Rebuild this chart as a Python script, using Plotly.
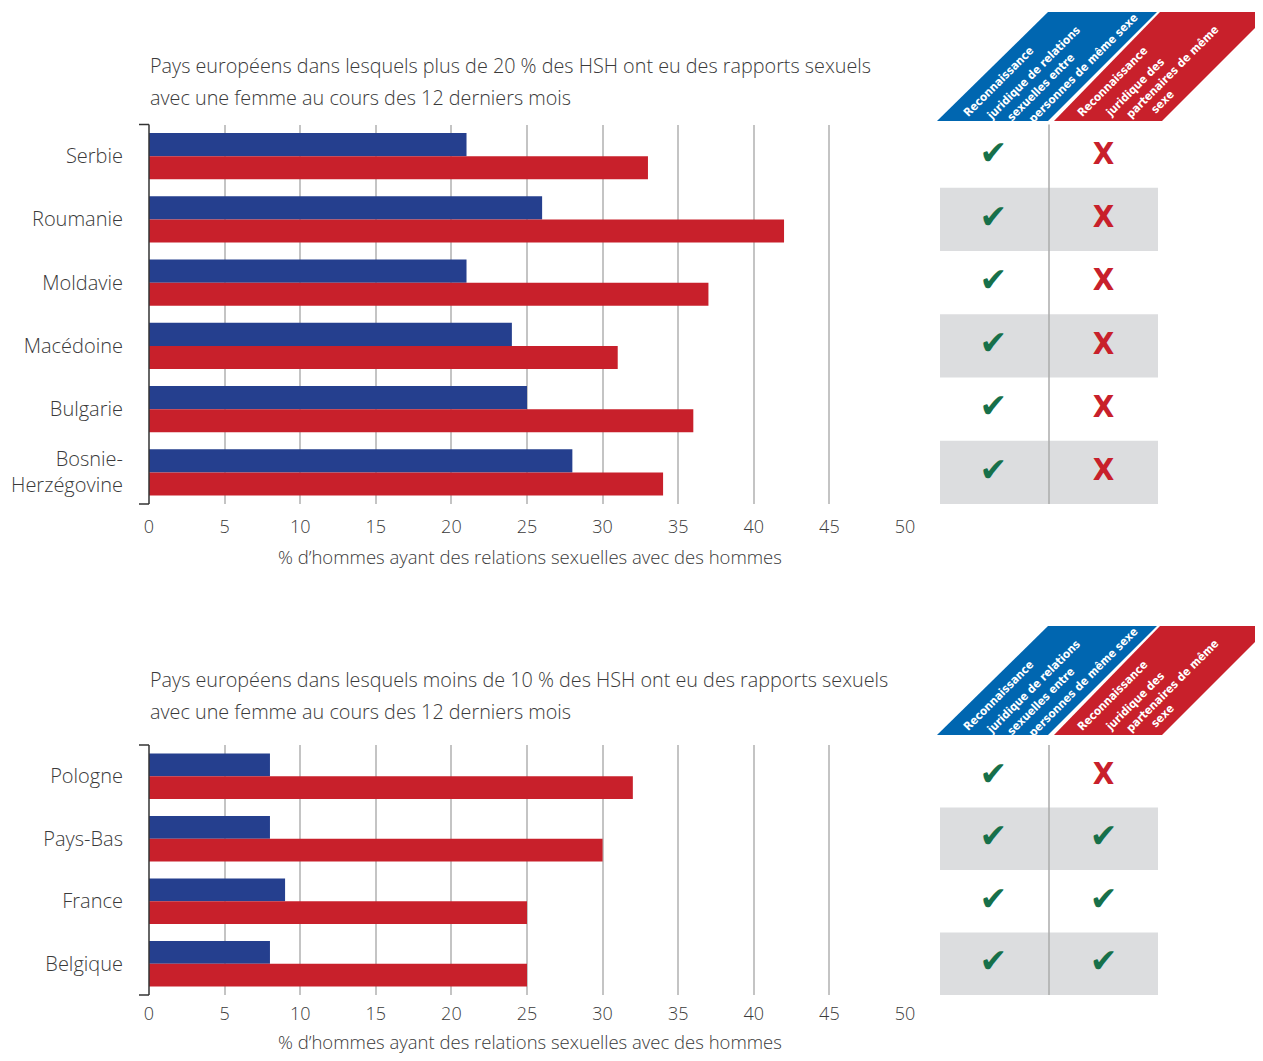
import plotly.graph_objects as go

# ---------------- data ----------------
countries_top = ["Serbie", "Roumanie", "Moldavie", "Macédoine", "Bulgarie", "Bosnie-<br>Herzégovine"]
blue_top = [21, 26, 21, 24, 25, 28]
red_top = [33, 42, 37, 31, 36, 34]
relations_top = [True, True, True, True, True, True]
partners_top = [False, False, False, False, False, False]

countries_bot = ["Pologne", "Pays-Bas", "France", "Belgique"]
blue_bot = [8, 8, 9, 8]
red_bot = [32, 30, 25, 25]
relations_bot = [True, True, True, True]
partners_bot = [False, True, True, True]

x_ticks = [0, 5, 10, 15, 20, 25, 30, 35, 40, 45, 50]

title_top = ["Pays européens dans lesquels plus de 20 % des HSH ont eu des rapports sexuels",
             "avec une femme au cours des 12 derniers mois"]
title_bot = ["Pays européens dans lesquels moins de 10 % des HSH ont eu des rapports sexuels",
             "avec une femme au cours des 12 derniers mois"]
x_title = "% d’hommes ayant des relations sexuelles avec des hommes"
header_blue = ["Reconnaissance", "juridique de relations", "sexuelles entre", "personnes de même sexe"]
header_red = ["Reconnaissance", "juridique des", "partenaires de même", "sexe"]

# ---------------- style ----------------
OFF = 8                      # default page margin of the html body
W, H = 1263 - 2 * OFF, 1061 - 2 * OFF
BLUE_BAR = "#253f8e"
RED_BAR = "#c8202b"
HEAD_BLUE = "#0066b0"
HEAD_RED = "#c8202b"
GREEN = "#17704a"
GRID = "#c4c4c4"
TXT = "#3a3a3a"
FONT = "Open Sans, Noto Sans, sans-serif"
NARROW = "Liberation Sans Narrow, DejaVu Sans Condensed, sans-serif"


def px(x):
    return (x - OFF) / W


def py(y):
    return 1 - (y - OFF) / H


fig = go.Figure()

panels = [
    dict(cats=countries_top, blue=blue_top, red=red_top, rel=relations_top, par=partners_top,
         xa="x", ya="y", xt="x3", dy=0, title=title_top, xt_y=556, dom=(124.5, 504), tl=6),
    dict(cats=countries_bot, blue=blue_bot, red=red_bot, rel=relations_bot, par=partners_bot,
         xa="x2", ya="y2", xt="x4", dy=614, title=title_bot, xt_y=1041, dom=(745, 995), tl=2),
]

shapes = []
annotations = []


def marks(vals, xpos, xt, ya, cats):
    return go.Scatter(
        x=[xpos] * len(cats), y=cats, mode="text",
        text=["✔" if v else "X" for v in vals],
        textfont=dict(size=[33 if v else 31 for v in vals],
                      color=[GREEN if v else HEAD_RED for v in vals],
                      family=[("DejaVu Sans" if v else NARROW) for v in vals],
                      weight=["normal" if v else "bold" for v in vals]),
        xaxis=xt, yaxis=ya, showlegend=False, hoverinfo="skip")


for p in panels:
    fig.add_trace(go.Bar(y=p["cats"], x=p["blue"], orientation="h", marker_color=BLUE_BAR,
                         marker_line_width=0, xaxis=p["xa"], yaxis=p["ya"], showlegend=False,
                         hoverinfo="x+y"))
    fig.add_trace(go.Bar(y=p["cats"], x=p["red"], orientation="h", marker_color=RED_BAR,
                         marker_line_width=0, xaxis=p["xa"], yaxis=p["ya"], showlegend=False,
                         hoverinfo="x+y"))
    fig.add_trace(marks(p["rel"], 0.49, p["xt"], p["ya"], p["cats"]))
    fig.add_trace(marks(p["par"], 1.5, p["xt"], p["ya"], p["cats"]))

    # shaded rows
    for i in range(len(p["cats"])):
        if i % 2 == 1:
            shapes.append(dict(type="rect", xref=p["xt"], yref=p["ya"], x0=0, x1=2,
                               y0=i - 0.5, y1=i + 0.5, fillcolor="#dcdddf",
                               line_width=0, layer="below"))
    # divider
    shapes.append(dict(type="line", xref=p["xt"], yref=p["ya"] + " domain", x0=1, x1=1,
                       y0=0, y1=1, line=dict(color="#ababab", width=1.5), layer="above"))
    # bracket
    stub = -10 / 756
    for seg in [(0, 0, 0, 1), (stub, 1, 0, 1), (stub, 0, 0, 0)]:
        shapes.append(dict(type="line", xref=p["xa"] + " domain", yref=p["ya"] + " domain",
                           x0=seg[0], y0=seg[1], x1=seg[2], y1=seg[3],
                           line=dict(color="#333333", width=1.5), layer="above"))
    d = p["dy"]
    # header parallelograms
    blue_pts = [(937, 121 + d), (1048, 121 + d), (1157, 12 + d), (1048, 12 + d)]
    red_pts = [(1054, 121 + d), (1162, 121 + d), (1271, 12 + d), (1160, 12 + d)]
    for pts, col in [(blue_pts, HEAD_BLUE), (red_pts, HEAD_RED)]:
        path = "M " + " L ".join(f"{px(a):.5f},{py(b):.5f}" for a, b in pts) + " Z"
        shapes.append(dict(type="path", xref="paper", yref="paper", path=path,
                           fillcolor=col, line_width=0))
    blue_centers = [(998, 82), (1033, 73), (1041, 87), (1083, 68)]
    red_centers = [(1112, 82), (1135, 87), (1172, 72), (1162, 102)]
    for lines, centers in [(header_blue, blue_centers), (header_red, red_centers)]:
        for t, (cx, cy) in zip(lines, centers):
            annotations.append(dict(x=px(cx), y=py(cy + d), xref="paper", yref="paper",
                                    text=t, showarrow=False, textangle=-45,
                                    xanchor="center", yanchor="middle",
                                    font=dict(family=NARROW, size=11.5, color="white",
                                              weight="bold")))
    # titles
    for t, yy in zip(p["title"], [65, 97]):
        annotations.append(dict(x=px(148), y=py(yy + d), xref="paper", yref="paper",
                                text=t, showarrow=False, xanchor="left", yanchor="middle",
                                font=dict(family=FONT, size=19.8, color=TXT, weight=300)))
    # x axis title
    annotations.append(dict(x=px(530), y=py(p["xt_y"]), xref="paper", yref="paper",
                            text=x_title, showarrow=False, xanchor="center", yanchor="middle",
                            font=dict(family=FONT, size=18.5, color=TXT, weight=300)))

xdom = [px(149), px(905)]
tdom = [px(940), px(1158)]
xaxis_common = dict(range=[0, 50], tickvals=x_ticks, showgrid=True, gridcolor=GRID, gridwidth=2,
                    zeroline=False, showline=False, ticks="outside",
                    tickcolor="rgba(0,0,0,0)", automargin=False,
                    tickfont=dict(family=FONT, size=18, color=TXT, weight=300),
                    fixedrange=True)
yaxis_common = dict(autorange="reversed", showgrid=False, zeroline=False, showline=False,
                    ticks="outside", ticklen=21, tickcolor="rgba(0,0,0,0)", automargin=False,
                    tickfont=dict(family=FONT, size=20, color=TXT, weight=300), fixedrange=True)
table_axis = dict(range=[0, 2], visible=False, fixedrange=True, automargin=False)

top_dom, bot_dom = panels[0]["dom"], panels[1]["dom"]
fig.update_layout(
    width=W, height=H, margin=dict(l=0, r=0, t=0, b=0, autoexpand=False),
    paper_bgcolor="white", plot_bgcolor="rgba(0,0,0,0)",
    barmode="group", bargap=0.27, bargroupgap=0,
    xaxis=dict(domain=xdom, anchor="y", ticklen=panels[0]["tl"], **xaxis_common),
    yaxis=dict(domain=[py(top_dom[1]), py(top_dom[0])], anchor="x", **yaxis_common),
    xaxis2=dict(domain=xdom, anchor="y2", ticklen=panels[1]["tl"], **xaxis_common),
    yaxis2=dict(domain=[py(bot_dom[1]), py(bot_dom[0])], anchor="x2", **yaxis_common),
    xaxis3=dict(domain=tdom, anchor="y", **table_axis),
    xaxis4=dict(domain=tdom, anchor="y2", **table_axis),
    shapes=shapes, annotations=annotations,
)

fig.write_html("out.html")
